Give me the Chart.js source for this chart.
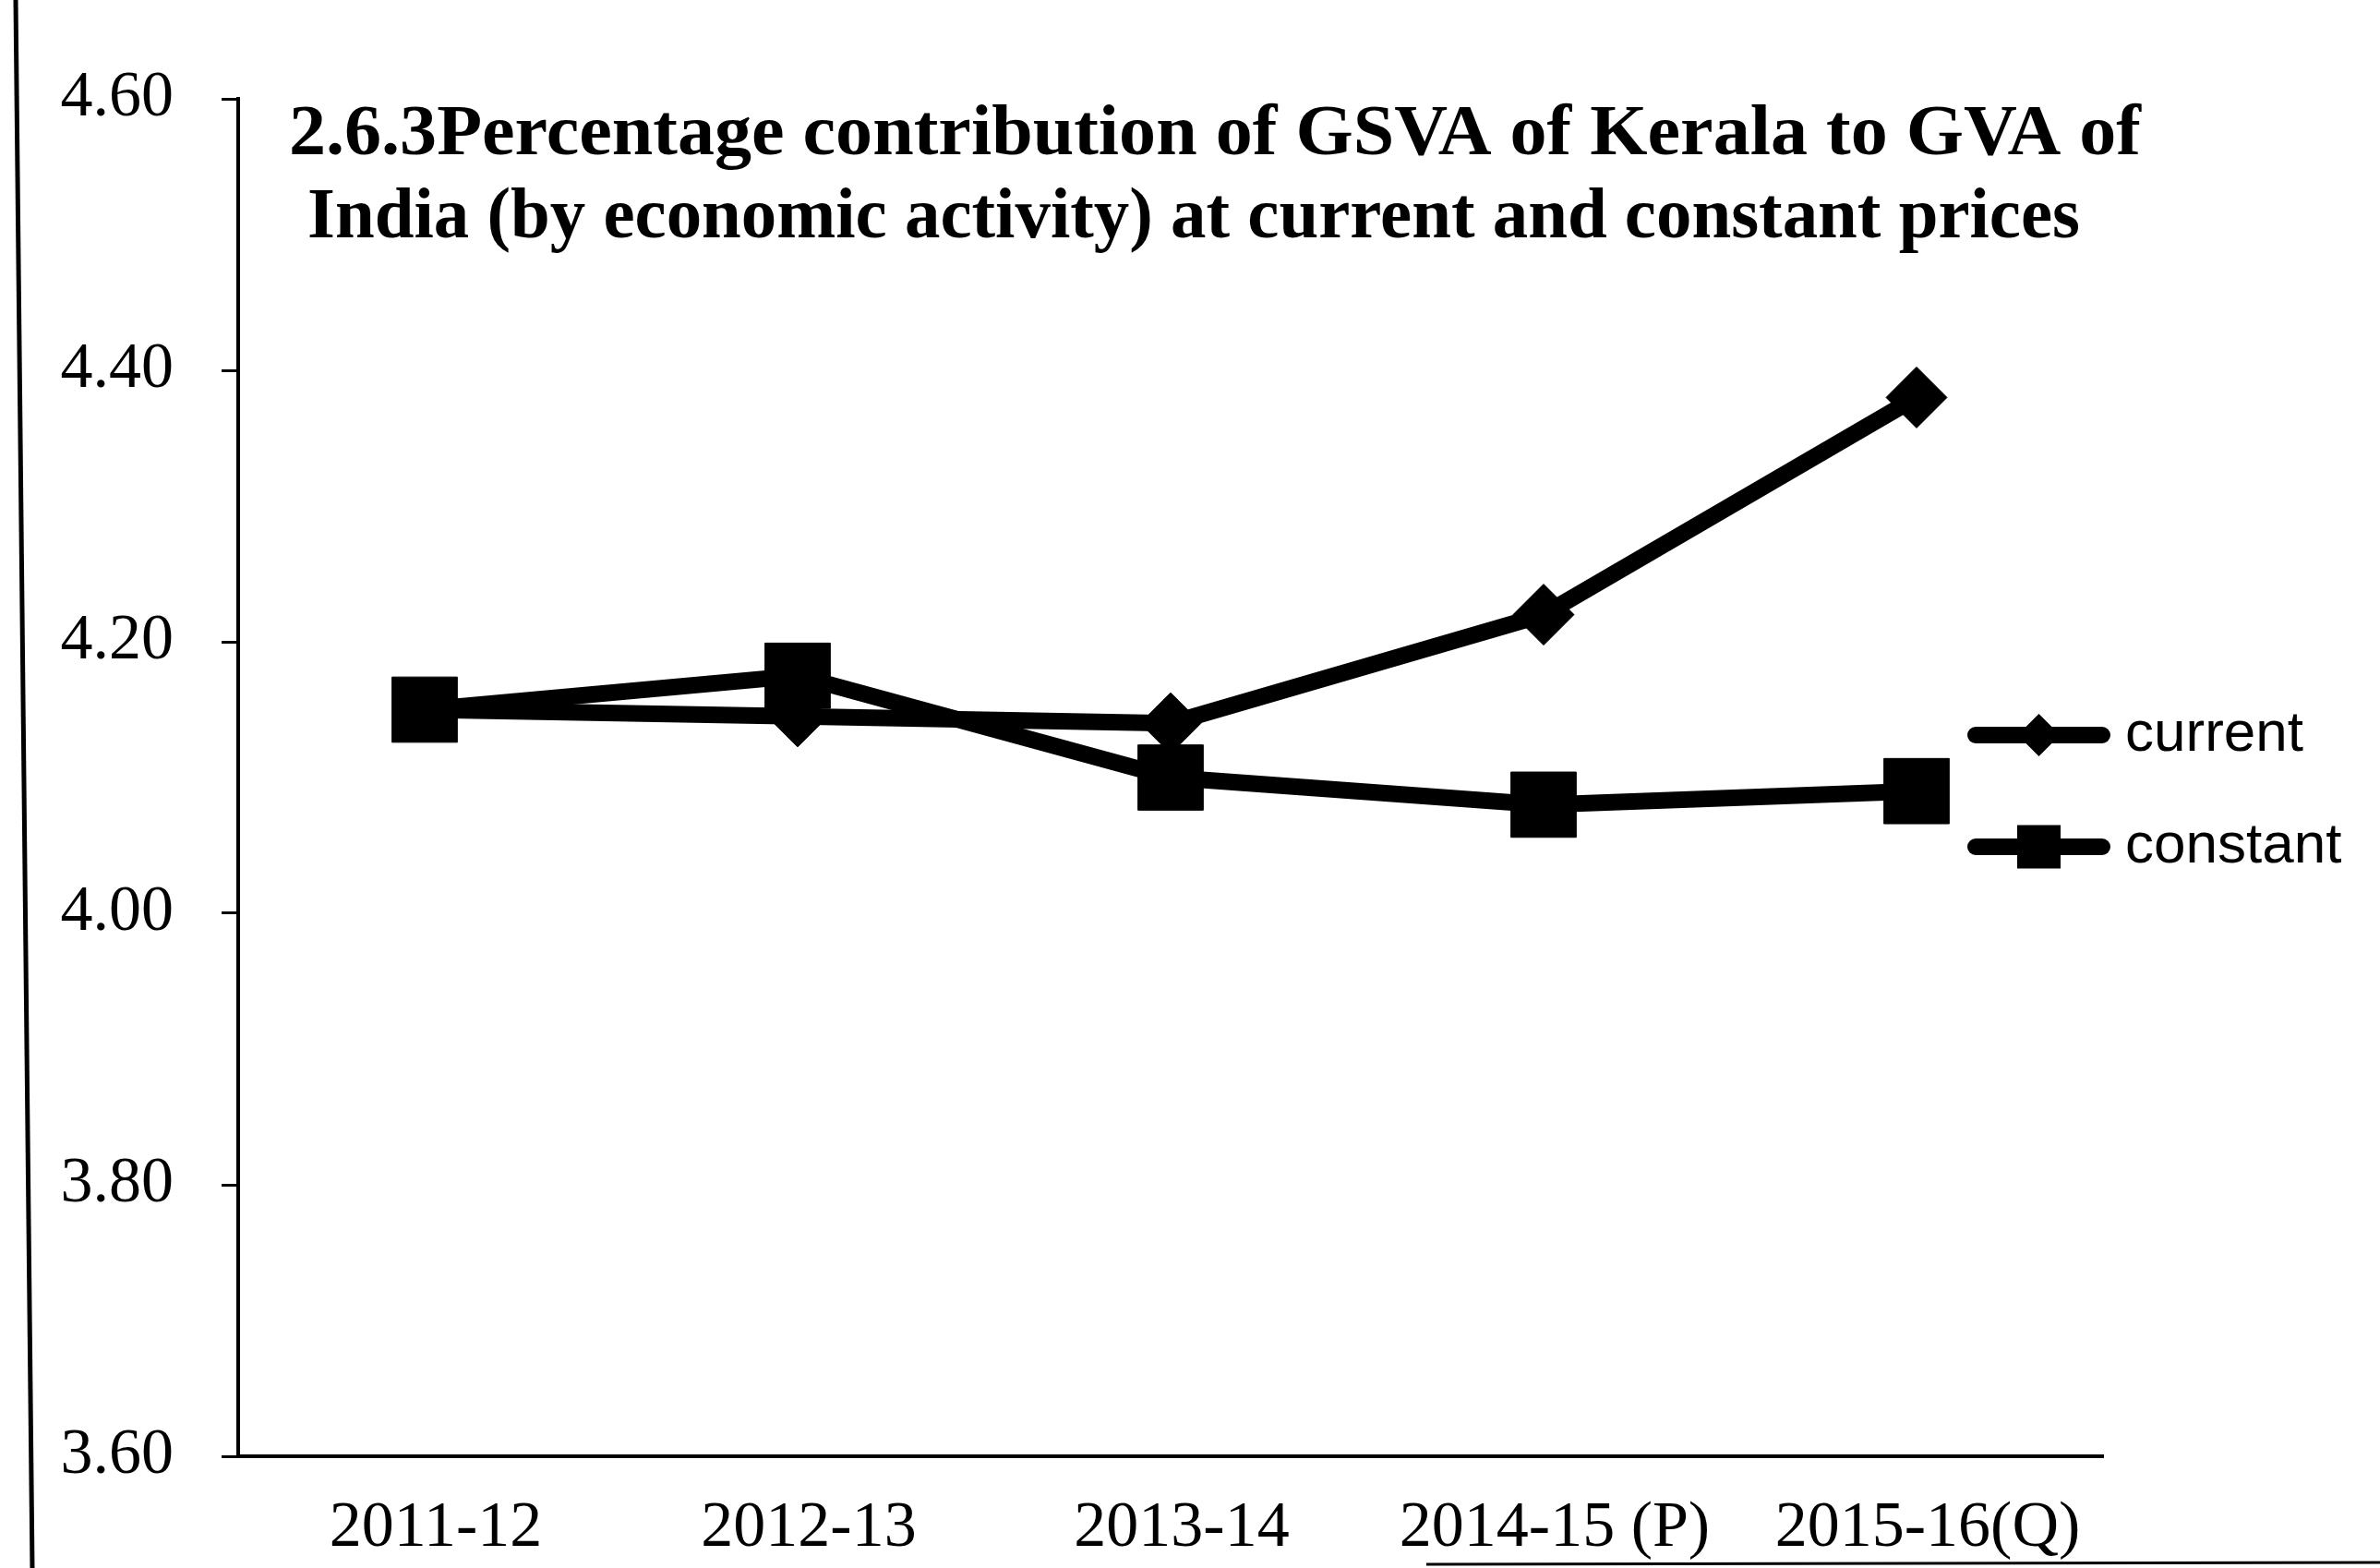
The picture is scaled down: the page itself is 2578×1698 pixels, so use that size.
<!DOCTYPE html>
<html>
<head>
<meta charset="utf-8">
<script src="https://cdn.jsdelivr.net/npm/chart.js@4/dist/chart.umd.min.js"></script>
<style>
html,body{margin:0;padding:0;background:#fff;}
#wrap{width:2578px;height:1698px;position:relative;}
</style>
</head>
<body>
<div id="wrap"><canvas id="c" width="2578" height="1698"></canvas></div>
<script>
// ---- data ----
const categories = ['2011-12', '2012-13', '2013-14', '2014-15 (P)', '2015-16(Q)'];
const currentValues = [4.15, 4.145, 4.14, 4.22, 4.38];
const constantValues = [4.15, 4.175, 4.10, 4.08, 4.09];
const seriesNames = ['current', 'constant'];
const yMin = 3.6, yMax = 4.6, yStep = 0.2;
const titleLines = [
  '2.6.3Percentage contribution of GSVA of Kerala to GVA of',
  'India (by economic activity) at current and constant prices'
];

function makeIcon(kind) {
  const c = document.createElement('canvas');
  c.width = 155; c.height = 60;
  const g = c.getContext('2d');
  g.strokeStyle = '#000'; g.lineWidth = 18; g.lineCap = 'round';
  g.beginPath(); g.moveTo(9, 30); g.lineTo(146, 30); g.stroke();
  g.fillStyle = '#000';
  if (kind === 'diamond') {
    g.beginPath(); g.moveTo(77.5, 7); g.lineTo(100.5, 30); g.lineTo(77.5, 53); g.lineTo(54.5, 30); g.closePath(); g.fill();
  } else {
    g.fillRect(54, 6.5, 47, 47);
  }
  return c;
}
const legendIcons = [makeIcon('diamond'), makeIcon('square')];

function drawFitted(ctx, text, x, y, targetWidth) {
  const w = ctx.measureText(text).width;
  const sx = targetWidth / w;
  ctx.save();
  ctx.translate(x, y);
  ctx.scale(sx, 1);
  ctx.fillText(text, 0, 0);
  ctx.restore();
}

const decor = {
  id: 'decor',
  beforeDraw(chart) {
    const ctx = chart.ctx;
    ctx.save();
    ctx.fillStyle = '#fff';
    ctx.fillRect(0, 0, chart.width, chart.height);
    ctx.strokeStyle = '#000';
    ctx.lineWidth = 5;
    ctx.beginPath(); ctx.moveTo(17, 0); ctx.lineTo(35, chart.height); ctx.stroke();
    ctx.lineWidth = 3;
    ctx.beginPath(); ctx.moveTo(1545, chart.height - 4); ctx.lineTo(chart.width, chart.height - 6); ctx.stroke();
    ctx.restore();
  },
  afterDraw(chart) {
    const ctx = chart.ctx, a = chart.chartArea;
    ctx.save();
    ctx.fillStyle = '#000';
    ctx.font = 'bold 78px "Liberation Serif", "Times New Roman", serif';
    ctx.textAlign = 'left';
    ctx.textBaseline = 'alphabetic';
    drawFitted(ctx, titleLines[0], a.left + 55, a.top + 60, 2006);
    drawFitted(ctx, titleLines[1], a.left + 75, a.top + 150, 1920);
    ctx.restore();
  }
};

const legendPlace = {
  id: 'legendPlace',
  afterLayout(chart) {
    const lg = chart.legend;
    if (!lg) return;
    const a = chart.chartArea;
    lg.left = a.right - 191;
    lg.right = chart.width;
    lg.top = 706;
    lg.bottom = 1250;
    lg.width = lg.right - lg.left;
    lg.height = lg.bottom - lg.top;
  }
};

new Chart(document.getElementById('c'), {
  type: 'line',
  data: {
    labels: categories,
    datasets: [
      {
        label: seriesNames[0],
        data: currentValues,
        borderColor: '#000', backgroundColor: '#000',
        borderWidth: 18, tension: 0, fill: false,
        pointStyle: 'rectRot', pointRadius: 33, pointHoverRadius: 33,
        pointBackgroundColor: '#000', pointBorderColor: '#000', pointBorderWidth: 1
      },
      {
        label: seriesNames[1],
        data: constantValues,
        borderColor: '#000', backgroundColor: '#000',
        borderWidth: 18, tension: 0, fill: false,
        pointStyle: 'rect', pointRadius: 50, pointHoverRadius: 50,
        pointBackgroundColor: '#000', pointBorderColor: '#000', pointBorderWidth: 1
      }
    ]
  },
  options: {
    responsive: false,
    animation: false,
    devicePixelRatio: 1,
    layout: { padding: { left: 0, top: 107, right: 300, bottom: 0 } },
    plugins: {
      tooltip: { enabled: false },
      title: { display: false },
      legend: {
        display: true,
        position: 'chartArea',
        align: 'start',
        labels: {
          usePointStyle: true,
          pointStyleWidth: 125,
          padding: 59,
          color: '#000',
          font: { family: '"Liberation Sans", Arial, sans-serif', size: 62 },
          generateLabels(chart) {
            const items = Chart.defaults.plugins.legend.labels.generateLabels(chart);
            items.forEach((it, i) => { it.pointStyle = legendIcons[i]; it.fontColor = '#000'; });
            return items;
          }
        }
      }
    },
    scales: {
      x: {
        type: 'category',
        offset: true,
        grid: { display: true, drawOnChartArea: false, drawTicks: false },
        border: { display: true, color: '#000', width: 4 },
        ticks: {
          color: '#000',
          font: { family: '"Liberation Serif", "Times New Roman", serif', size: 70 },
          padding: 37, labelOffset: 12, maxRotation: 0, autoSkip: false
        },
        afterFit(s) { s.height = 121; }
      },
      y: {
        min: yMin, max: yMax,
        grid: { display: true, drawOnChartArea: false, drawTicks: true, tickLength: 18, tickWidth: 3, tickColor: '#000' },
        border: { display: true, color: '#000', width: 4 },
        ticks: {
          stepSize: yStep,
          color: '#000',
          font: { family: '"Liberation Serif", "Times New Roman", serif', size: 70 },
          padding: 52,
          callback: (v) => Number(v).toFixed(2)
        },
        afterFit(s) { s.width = 258; }
      }
    }
  },
  plugins: [decor, legendPlace]
});
</script>
</body>
</html>
